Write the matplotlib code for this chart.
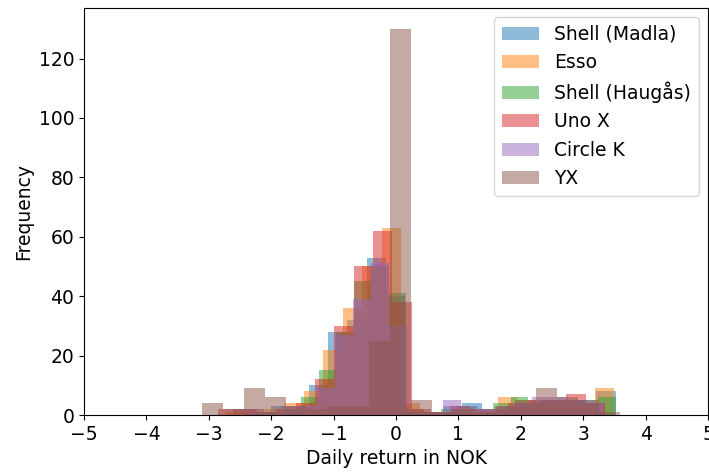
import numpy as np
import matplotlib
matplotlib.use("Agg")
import matplotlib.pyplot as plt

# ---------------------------------------------------------------------------
# Data: 20-bin histograms of daily returns (NOK) per station
# bin range = (min, max) of each station's returns
# ---------------------------------------------------------------------------
stations = ["Shell (Madla)", "Esso", "Shell (Haugås)", "Uno X", "Circle K", "YX"]

range_madla = (-2.62, 3.52)
range_esso = (-2.72, 3.50)
range_haugas = (-2.08, 3.52)
range_unox = (-2.85, 3.35)
range_circlek = (-2.41, 3.33)
range_yx = (-3.11, 3.59)

counts_madla = [2, 1, 3, 3, 10, 28, 32, 53, 40, 2, 1, 3, 4, 2, 3, 4, 5, 4, 5, 8]
counts_esso = [1, 2, 2, 4, 8, 22, 36, 50, 63, 4, 1, 1, 2, 1, 6, 5, 4, 5, 3, 9]
counts_haugas = [1, 2, 6, 15, 28, 45, 50, 41, 1, 1, 2, 3, 2, 4, 6, 4, 5, 5, 4, 6]
counts_unox = [2, 2, 1, 2, 4, 12, 30, 50, 62, 38, 2, 1, 3, 2, 2, 4, 5, 5, 7, 4]
counts_circlek = [2, 1, 3, 3, 9, 27, 39, 51, 30, 1, 1, 5, 3, 2, 3, 4, 6, 6, 5, 4]
counts_yx = [4, 2, 9, 6, 3, 2, 3, 3, 25, 130, 5, 1, 2, 1, 3, 5, 9, 6, 5, 1]

ranges = [range_madla, range_esso, range_haugas, range_unox, range_circlek, range_yx]
counts = [counts_madla, counts_esso, counts_haugas, counts_unox, counts_circlek, counts_yx]

N_BINS = 20
FS = 13.5

# ---------------------------------------------------------------------------
# Draw
# ---------------------------------------------------------------------------
fig, ax = plt.subplots(figsize=(7.09, 4.73), dpi=100)
fig.subplots_adjust(left=84 / 709, right=708 / 709, top=1 - 8 / 473, bottom=1 - 415 / 473)

for name, (lo, hi), cnt in zip(stations, ranges, counts):
    edges = np.linspace(lo, hi, N_BINS + 1)
    centers = (edges[:-1] + edges[1:]) / 2
    ax.hist(centers, bins=edges, weights=cnt, alpha=0.5, label=name)

ax.set_xlim(-5, 5)
ax.set_ylim(0, 137)
ax.set_xticks(range(-5, 6))
ax.set_yticks(range(0, 121, 20))
ax.tick_params(labelsize=FS)
ax.set_xlabel("Daily return in NOK", fontsize=FS)
ax.set_ylabel("Frequency", fontsize=FS)
ax.legend(loc="upper right", fontsize=FS)

fig.savefig("out.png", dpi=100)
